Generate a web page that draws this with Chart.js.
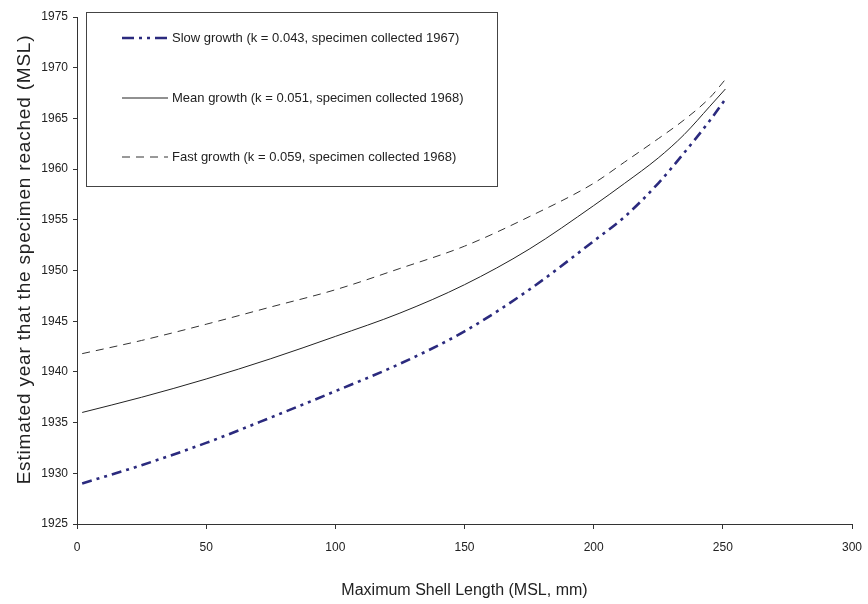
<!DOCTYPE html>
<html>
<head>
<meta charset="utf-8">
<script src="https://cdn.jsdelivr.net/npm/chart.js@4.4.1/dist/chart.umd.min.js"></script>
<style>
  html, body { margin: 0; padding: 0; background: #fff; }
  #wrap { width: 868px; height: 604px; position: relative; }
</style>
</head>
<body>
<div id="wrap"><canvas id="c" width="868" height="604"></canvas></div>
<script>
// ---- data ----
const shellLengths = [2, 25, 50, 75, 100, 125, 150, 175, 200, 212, 225, 235, 245, 251];
const slowYears = [1929.0, 1930.8, 1933.0, 1935.5, 1938.1, 1940.8, 1944.0, 1948.1, 1952.9, 1955.3, 1958.6, 1961.6, 1964.8, 1966.9];
const meanYears = [1936.0, 1937.5, 1939.3, 1941.3, 1943.5, 1945.8, 1948.6, 1952.1, 1956.4, 1958.6, 1961.1, 1963.4, 1966.2, 1967.9];
const fastYears = [1941.8, 1943.1, 1944.7, 1946.4, 1948.1, 1950.2, 1952.4, 1955.3, 1958.6, 1960.7, 1963.0, 1964.85, 1967.05, 1968.85];
const seriesLabels = [
  'Slow growth (k = 0.043, specimen collected 1967)',
  'Mean growth (k = 0.051, specimen collected 1968)',
  'Fast growth (k = 0.059, specimen collected 1968)'
];
const xTicks = [0, 50, 100, 150, 200, 250, 300];
const yTicks = [1925, 1930, 1935, 1940, 1945, 1950, 1955, 1960, 1965, 1970, 1975];
const xTitle = 'Maximum Shell Length (MSL, mm)';
const yTitle = 'Estimated year that the specimen reached (MSL)';

const FONT = '"Liberation Sans", Arial, sans-serif';

function pts(ys) { return shellLengths.map((x, i) => ({ x: x, y: ys[i] })); }

const legendPlugin = {
  id: 'boxLegend',
  afterDraw(chart) {
    const ctx = chart.ctx;
    ctx.save();
    ctx.strokeStyle = '#444';
    ctx.lineWidth = 1;
    ctx.strokeRect(86.5, 12.5, 411, 174);
    const rows = [38, 98, 157];
    chart.data.datasets.forEach((ds, i) => {
      const y = rows[i];
      ctx.beginPath();
      ctx.strokeStyle = ds.borderColor;
      ctx.lineWidth = ds.borderWidth;
      ctx.setLineDash(ds.legendDash || ds.borderDash || []);
      ctx.moveTo(122, y);
      ctx.lineTo(168, y);
      ctx.stroke();
      ctx.setLineDash([]);
      ctx.fillStyle = '#222';
      ctx.font = '13px ' + FONT;
      ctx.textBaseline = 'middle';
      ctx.textAlign = 'left';
      ctx.fillText(ds.label, 172, y);
    });
    ctx.restore();
  }
};

const titlePatch = {
  id: 'titlePatch',
  afterLayout(chart) {
    const s = chart.scales.y;
    if (s && !s._patched) {
      const orig = s.drawTitle.bind(s);
      s.drawTitle = function () {
        this.ctx.save();
        this.ctx.translate(0, -11);
        this.ctx.letterSpacing = '0.8px';
        orig();
        this.ctx.restore();
      };
      s._patched = true;
    }
  }
};

new Chart(document.getElementById('c'), {
  type: 'line',
  data: {
    datasets: [
      { label: seriesLabels[0], data: pts(slowYears), borderColor: '#2B2A7E', borderWidth: 2.6,
        borderDash: [10, 5, 3, 5, 3, 5], legendDash: [12, 5, 3, 5, 3, 5], pointRadius: 0, cubicInterpolationMode: 'monotone', fill: false },
      { label: seriesLabels[1], data: pts(meanYears), borderColor: '#222', borderWidth: 1,
        pointRadius: 0, cubicInterpolationMode: 'monotone', fill: false },
      { label: seriesLabels[2], data: pts(fastYears), borderColor: '#333', borderWidth: 1,
        borderDash: [8, 6], pointRadius: 0, cubicInterpolationMode: 'monotone', fill: false }
    ]
  },
  options: {
    responsive: false,
    animation: false,
    devicePixelRatio: 1,
    layout: { padding: { top: 17, right: 16, left: 0, bottom: 0 } },
    plugins: { legend: { display: false }, tooltip: { enabled: false } },
    scales: {
      x: {
        type: 'linear', min: 0, max: 300,
        afterBuildTicks(scale) { scale.ticks = xTicks.map(v => ({ value: v })); },
        afterFit(scale) { scale.height = 80; scale.paddingRight = 0; scale.paddingLeft = 0; },
        ticks: { color: '#222', font: { family: FONT, size: 12 }, padding: 11, maxRotation: 0 },
        grid: { drawOnChartArea: false, drawTicks: true, tickLength: 5, tickColor: '#333' },
        border: { color: '#333', width: 1 },
        title: { display: true, text: xTitle, color: '#222', font: { family: FONT, size: 16 }, padding: { top: 0, bottom: 4 } }
      },
      y: {
        type: 'linear', min: 1925, max: 1975,
        afterBuildTicks(scale) { scale.ticks = yTicks.map(v => ({ value: v })); },
        afterFit(scale) { scale.width = 77; scale.paddingTop = 0; scale.paddingBottom = 0; },
        ticks: { color: '#222', font: { family: FONT, size: 12 }, padding: 5, callback: v => String(v) },
        grid: { drawOnChartArea: false, drawTicks: true, tickLength: 4, tickColor: '#333' },
        border: { color: '#333', width: 1 },
        title: { display: true, text: yTitle, color: '#222', font: { family: FONT, size: 19 }, padding: { top: 13, bottom: 0 } }
      }
    }
  },
  plugins: [legendPlugin, titlePatch]
});
</script>
</body>
</html>
